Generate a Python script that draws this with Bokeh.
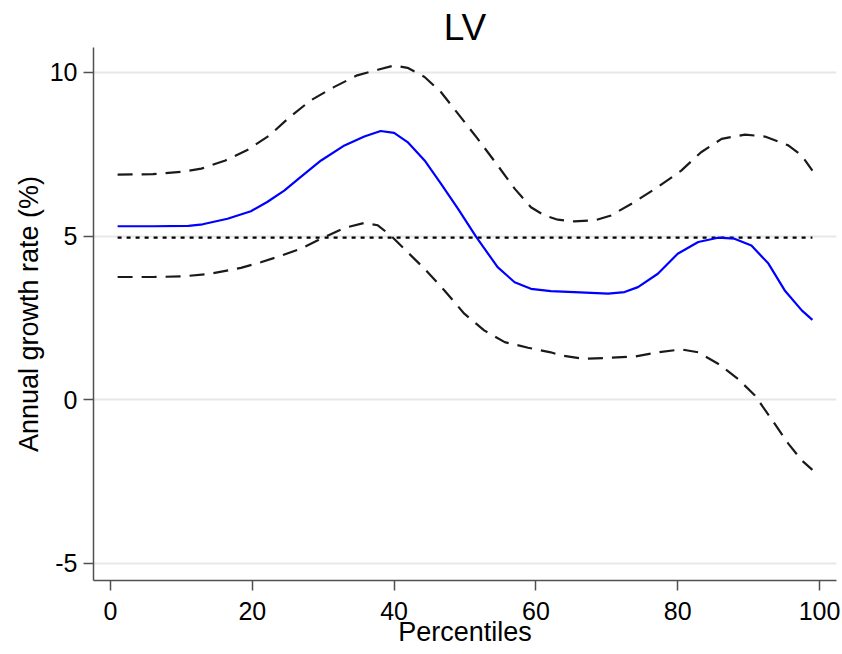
from bokeh.plotting import figure
from bokeh.models import FixedTicker, Range1d
from bokeh.embed import file_html
from bokeh.resources import INLINE

# ---- data (percentile, value) ----
growth_p = [1, 6, 11, 13, 16.5, 19.8, 22.1, 24.5, 26.8, 29.7, 33, 35.8, 38.1, 40, 41.9, 44.3,
            46.6, 49, 51.6, 54.6, 57, 59.3, 62.1, 65.4, 70.2, 72.5, 74.4, 77.2, 80, 82.9, 85.7,
            88, 90.4, 92.8, 95.1, 97.5, 99]
growth = [5.30, 5.30, 5.31, 5.36, 5.53, 5.76, 6.04, 6.39, 6.80, 7.31, 7.77, 8.04, 8.21, 8.15,
          7.87, 7.31, 6.60, 5.84, 4.97, 4.05, 3.59, 3.39, 3.32, 3.29, 3.24, 3.29, 3.44, 3.85,
          4.46, 4.82, 4.95, 4.92, 4.71, 4.16, 3.34, 2.73, 2.44]

upper_p = [1, 6, 10.4, 12.8, 16.2, 19.3, 22.4, 25.2, 28.2, 31.5, 34.8, 37.7, 40, 41.9, 44.3,
           46.6, 49, 51.8, 54.6, 57, 59.3, 61.2, 63.1, 65.4, 68.3, 70.6, 73.9, 77.2, 80.5,
           83.3, 86.2, 89.5, 92.3, 95.6, 97.5, 99]
upper = [6.88, 6.89, 6.97, 7.06, 7.31, 7.63, 8.07, 8.62, 9.14, 9.55, 9.91, 10.08, 10.21, 10.14,
         9.86, 9.40, 8.74, 7.97, 7.16, 6.45, 5.88, 5.63, 5.50, 5.45, 5.48, 5.63, 6.04, 6.50,
         7.00, 7.56, 7.97, 8.10, 8.04, 7.77, 7.46, 7.00]

lower_p = [1, 6, 10.3, 14.1, 18.4, 21.2, 23.5, 26.8, 29.7, 33, 35.8, 37.7, 39.5, 41.9, 44.3,
           47.1, 49.9, 52.7, 55.6, 58.9, 62.1, 63.6, 66.9, 70.2, 73.9, 77.2, 80.5, 82.9, 85.7,
           88.5, 90.9, 93.2, 95.6, 97.5, 99]
lower = [3.75, 3.75, 3.77, 3.85, 4.03, 4.20, 4.36, 4.61, 4.92, 5.25, 5.40, 5.33, 5.02, 4.51,
         4.00, 3.34, 2.63, 2.12, 1.76, 1.59, 1.45, 1.35, 1.25, 1.28, 1.32, 1.45, 1.54, 1.45,
         1.10, 0.64, 0.13, -0.58, -1.34, -1.85, -2.14]

ref_p = [1, 99]
ref_y = [4.95, 4.95]

x_ticks = [0, 20, 40, 60, 80, 100]
y_ticks = [-5, 0, 5, 10]
y_tick_labels = {-5: "-5", 0: "0", 5: "5", 10: "10"}

FONT = "Liberation Sans"

p = figure(width=842, height=654, output_backend="svg", toolbar_location=None,
           x_range=Range1d(-2.4, 102.4), y_range=Range1d(-5.52, 10.76),
           min_border_left=93, min_border_right=6, min_border_top=47, min_border_bottom=74,
           title="LV")

p.title.text_font = FONT
p.title.text_font_size = "37px"
p.title.text_font_style = "normal"
p.title.align = "center"
p.title.text_color = "black"
p.title.standoff = 0
p.title.offset = 0

p.outline_line_color = None
p.background_fill_color = "white"
p.border_fill_color = "white"

p.xgrid.grid_line_color = None
p.ygrid.grid_line_color = "#e8e8e8"
p.ygrid.grid_line_width = 2
p.ygrid.ticker = FixedTicker(ticks=y_ticks)

for ax in (p.xaxis[0], p.yaxis[0]):
    ax.axis_line_color = "#505050"
    ax.axis_line_width = 1.5
    ax.major_tick_line_color = "#505050"
    ax.major_tick_line_width = 1.5
    ax.major_tick_in = 0
    ax.major_tick_out = 10
    ax.minor_tick_line_color = None
    ax.major_label_text_font = FONT
    ax.major_label_text_font_size = "25px"
    ax.major_label_text_color = "black"
    ax.axis_label_text_font = FONT
    ax.axis_label_text_font_size = "27px"
    ax.axis_label_text_font_style = "normal"
    ax.axis_label_text_color = "black"

p.xaxis.ticker = FixedTicker(ticks=x_ticks)
p.yaxis.ticker = FixedTicker(ticks=y_ticks)
p.yaxis.major_label_overrides = y_tick_labels
p.xaxis.axis_label = "Percentiles"
p.yaxis.axis_label = "Annual growth rate (%)"
p.xaxis.major_label_standoff = 11
p.xaxis.axis_label_standoff = -6
p.yaxis.major_label_standoff = 6
p.yaxis.axis_label_standoff = 3
p.yaxis.major_label_orientation = "horizontal"

p.line(upper_p, upper, line_color="#1a1a1a", line_width=2.2, line_dash="15 9")
p.line(lower_p, lower, line_color="#1a1a1a", line_width=2.2, line_dash="15 9")
p.line(ref_p, ref_y, line_color="black", line_width=2.2, line_dash="4 5")
p.line(growth_p, growth, line_color="#0000ff", line_width=2.2)

open("out.html", "w").write(file_html(p, INLINE))
